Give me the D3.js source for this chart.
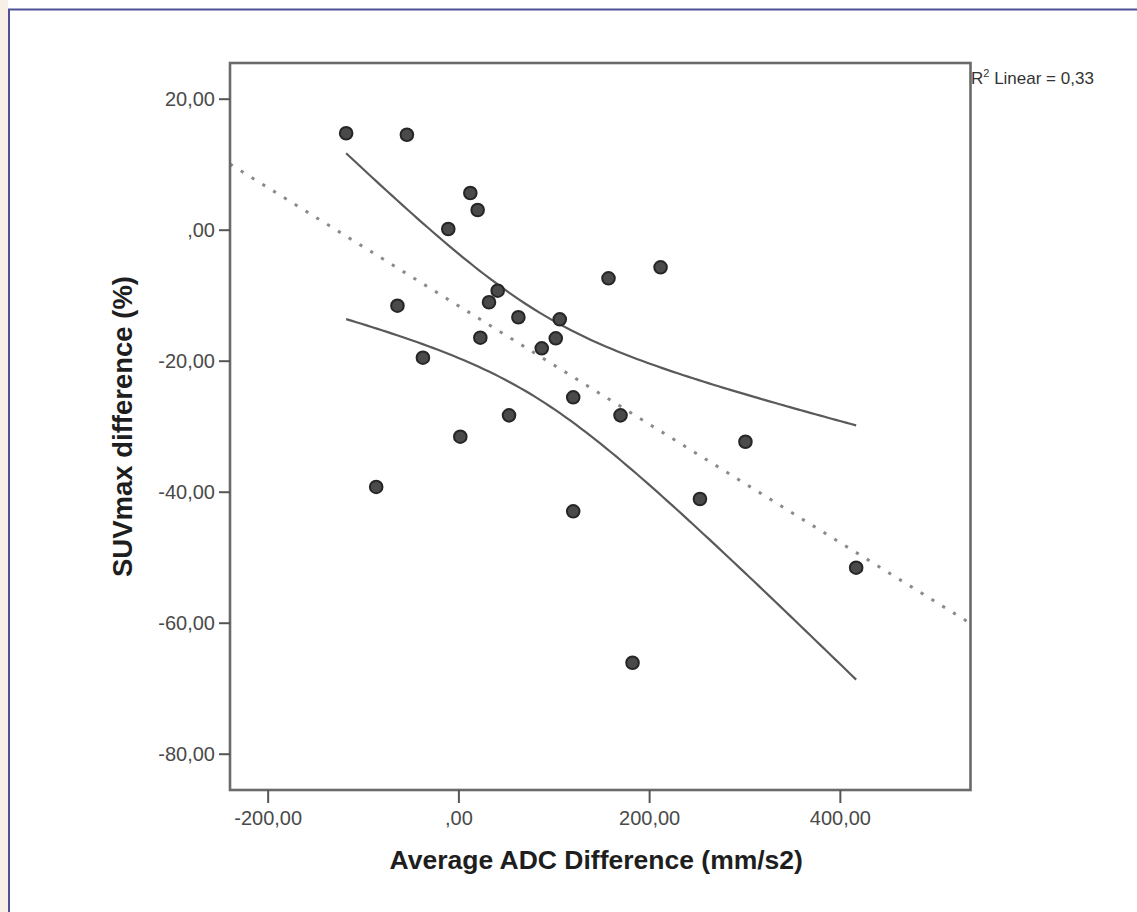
<!DOCTYPE html>
<html>
<head>
<meta charset="utf-8">
<script src="https://cdn.jsdelivr.net/npm/d3@7"></script>
<style>
  html, body { margin: 0; padding: 0; background: #ffffff; }
  svg { display: block; }
</style>
</head>
<body>
<svg id="chart" width="1137" height="912"></svg>
<script>
// ---- Data ----
const adcDiff = [-117.7, -54.0, 12.5, 20.2, -10.6, 157.4, 212.0, 41.2, 32.1, -63.9,
                 62.9, 106.3, 102.1, 23.0, 87.4, -37.2, 120.4, 170.0, 53.1, 2.0,
                 301.0, -86.2, 253.3, 120.4, 417.1, 182.6];
const suvDiff = [14.72, 14.50, 5.60, 3.01, 0.11, -7.42, -5.74, -9.31, -11.08, -11.60,
                 -13.37, -13.68, -16.58, -16.49, -18.11, -19.54, -25.59, -28.34, -28.34, -31.60,
                 -32.37, -39.27, -41.11, -42.99, -51.60, -66.11];
const xTicks = [-200, 0, 200, 400];
const yTicks = [20, 0, -20, -40, -60, -80];
const xDomain = [-239.5, 537];
const yDomain = [-85.54, 25.45];
const xTitle = "Average ADC Difference (mm/s2)";
const yTitle = "SUVmax difference (%)";
const r2Text = "0,33";

// ---- Layout ----
const svg = d3.select("#chart");
const plot = { left: 230, right: 970.5, top: 63, bottom: 790 };

const x = d3.scaleLinear().domain(xDomain).range([plot.left, plot.right]);
const y = d3.scaleLinear().domain(yDomain).range([plot.bottom, plot.top]);

const fmt = v => {
  // SPSS style: comma decimal, leading zero dropped for 0
  if (v === 0) return ",00";
  return d3.format(".2f")(v).replace(".", ",").replace("−", "-");
};

// outer frame of the screenshot (cream strip + blue border)
svg.append("rect").attr("x", 0).attr("y", 0).attr("width", 8).attr("height", 912)
  .attr("fill", "#f8f0e6");
svg.append("line").attr("x1", 9).attr("x2", 9).attr("y1", 9).attr("y2", 912)
  .attr("stroke", "#50509a").attr("stroke-width", 2);
svg.append("line").attr("x1", 8).attr("x2", 1137).attr("y1", 9.5).attr("y2", 9.5)
  .attr("stroke", "#50509a").attr("stroke-width", 2);

// clip for plot area
svg.append("defs").append("clipPath").attr("id", "clip")
  .append("rect").attr("x", plot.left).attr("y", plot.top)
  .attr("width", plot.right - plot.left).attr("height", plot.bottom - plot.top);

// ---- Regression (computed from the data) ----
const n = adcDiff.length;
const mx = d3.mean(adcDiff), my = d3.mean(suvDiff);
let sxx = 0, sxy = 0;
for (let i = 0; i < n; i++) { sxx += (adcDiff[i]-mx)**2; sxy += (adcDiff[i]-mx)*(suvDiff[i]-my); }
const b = sxy / sxx, a = my - b * mx;
let sse = 0;
for (let i = 0; i < n; i++) sse += (suvDiff[i] - (a + b*adcDiff[i]))**2;
const s = Math.sqrt(sse / (n - 2));
const tCrit = 2.0639; // t(0.975, df=24)

const g = svg.append("g").attr("clip-path", "url(#clip)");

// fit line (dotted)
g.append("line")
  .attr("x1", x(xDomain[0])).attr("y1", y(a + b*xDomain[0]))
  .attr("x2", x(xDomain[1])).attr("y2", y(a + b*xDomain[1]))
  .attr("stroke", "#8a8a8a").attr("stroke-width", 3)
  .attr("stroke-dasharray", "3.2,9.5").attr("stroke-linecap", "butt");

// confidence band of the mean
const xMin = d3.min(adcDiff), xMax = d3.max(adcDiff);
const xs = d3.range(0, 101).map(i => xMin + (xMax - xMin) * i / 100);
const hw = xv => tCrit * s * Math.sqrt(1/n + (xv - mx)**2 / sxx);
const lineGen = d3.line().x(d => x(d[0])).y(d => y(d[1])).curve(d3.curveMonotoneX);
g.append("path").datum(xs.map(v => [v, a + b*v + hw(v)]))
  .attr("d", lineGen).attr("fill", "none").attr("stroke", "#5a5a5a").attr("stroke-width", 2.2);
g.append("path").datum(xs.map(v => [v, a + b*v - hw(v)]))
  .attr("d", lineGen).attr("fill", "none").attr("stroke", "#5a5a5a").attr("stroke-width", 2.2);

// points
g.selectAll("circle.pt").data(adcDiff.map((v, i) => [v, suvDiff[i]]))
  .enter().append("circle").attr("class", "pt")
  .attr("cx", d => x(d[0])).attr("cy", d => y(d[1])).attr("r", 6.3)
  .attr("fill", "#4a4a4a").attr("stroke", "#262626").attr("stroke-width", 2);

// plot frame
svg.append("rect").attr("x", plot.left).attr("y", plot.top)
  .attr("width", plot.right - plot.left).attr("height", plot.bottom - plot.top)
  .attr("fill", "none").attr("stroke", "#6a6a6a").attr("stroke-width", 2.6);

// axes
const yAxis = d3.axisLeft(y).tickValues(yTicks).tickFormat(fmt).tickSize(11).tickPadding(4);
const yG = svg.append("g").attr("transform", `translate(${plot.left},0)`).call(yAxis);
const xAxis = d3.axisBottom(x).tickValues(xTicks).tickFormat(fmt).tickSize(13).tickPadding(8);
const xG = svg.append("g").attr("transform", `translate(0,${plot.bottom})`).call(xAxis);
[yG, xG].forEach(ax => {
  ax.select(".domain").remove();
  ax.selectAll(".tick line").attr("stroke", "#555").attr("stroke-width", 2);
  ax.selectAll(".tick text")
    .attr("fill", "#4a4a4a")
    .style("font-family", "'Liberation Sans', Arial, sans-serif")
    .style("font-size", "20px");
});

// axis titles
svg.append("text")
  .attr("x", (plot.left + plot.right) / 2 - 4).attr("y", 869)
  .attr("text-anchor", "middle")
  .style("font-family", "'Liberation Sans', Arial, sans-serif")
  .style("font-size", "26.5px").style("font-weight", "bold")
  .attr("fill", "#1e1e1e")
  .text(xTitle);

svg.append("text")
  .attr("transform", `translate(132,${(plot.top + plot.bottom) / 2}) rotate(-90)`)
  .attr("text-anchor", "middle")
  .style("font-family", "'Liberation Sans', Arial, sans-serif")
  .style("font-size", "27.5px").style("font-weight", "bold")
  .attr("fill", "#1e1e1e")
  .text(yTitle);

// R² label
const r2 = svg.append("text")
  .attr("x", 971).attr("y", 84)
  .style("font-family", "'Liberation Sans', Arial, sans-serif")
  .style("font-size", "17px").attr("fill", "#333");
r2.append("tspan").text("R");
r2.append("tspan").attr("dy", -7).style("font-size", "11px").text("2");
r2.append("tspan").attr("dy", 7).text(" Linear = " + r2Text);
</script>
</body>
</html>
